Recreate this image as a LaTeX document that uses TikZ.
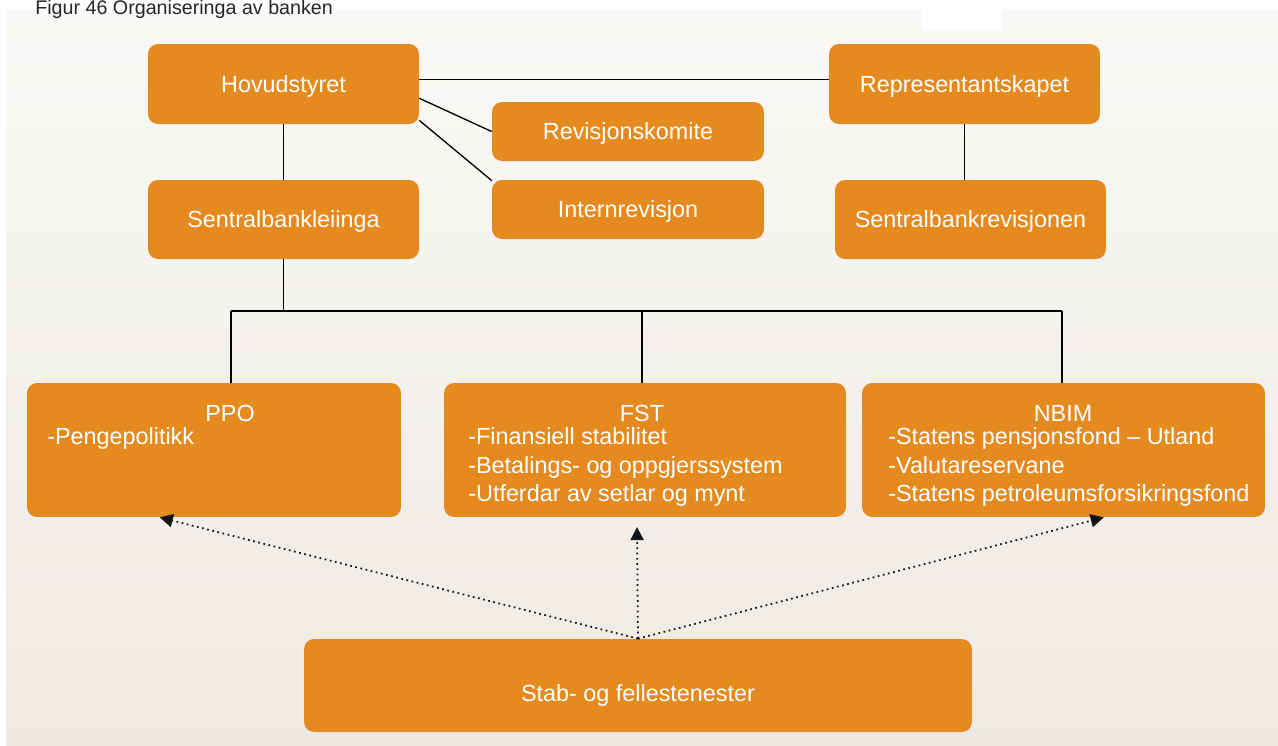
\documentclass[tikz,border=0pt]{standalone}
\usepackage{fontspec}
\setmainfont{Liberation Sans}
\usetikzlibrary{arrows.meta,calc}
\definecolor{orangebox}{HTML}{E58A1F}
\definecolor{bgtop}{HTML}{FAF9F7}
\definecolor{bgbot}{HTML}{EEEAE3}
\definecolor{tipcol}{HTML}{0A1414}
\tikzset{
  box/.style={fill=orangebox, draw=none, rounded corners=5.7pt, inner sep=0pt,
    text=white, text depth=0pt, font=\fontsize{13.3}{16}\selectfont},
  btext/.style={text=white, font=\fontsize{13.3}{16}\selectfont, inner sep=0pt, yshift=-0.06cm},
  conn/.style={draw=black, line width=0.75pt},
  dots/.style={draw=black!90, line width=1pt, dotted,
    -{Triangle[length=7.5pt,width=7.5pt,fill=tipcol]}},
}
\begin{document}
\begin{tikzpicture}[x=0.02cm,y=-0.02cm]
\useasboundingbox (0,0) rectangle (1278,745);
\fill[white] (0,0) rectangle (1278,745);
\shade[top color=bgtop, bottom color=bgbot] (6,10) rectangle (1278,745);
\fill[white] (922,10) rectangle (1002,30);
\node[anchor=base west, inner sep=0pt, text=black!85, font=\fontsize{11.2}{13}\selectfont] (title) at (35,14) {Figur 46 Organiseringa av banken};

\node[box, minimum width=5.42cm, minimum height=1.6cm] (hov) at (283.5,84) {Hovudstyret};
\node[box, minimum width=5.42cm, minimum height=1.6cm] (rep) at (964.5,84) {Representantskapet};
\node[box, minimum width=5.44cm, minimum height=1.18cm] (rev) at (628,131.5) {Revisjonskomite};
\node[box, minimum width=5.44cm, minimum height=1.18cm] (int) at (628,209.5) {Internrevisjon};
\node[box, minimum width=5.42cm, minimum height=1.58cm] (sbl) at (283.5,219.5) {Sentralbankleiinga};
\node[box, minimum width=5.42cm, minimum height=1.58cm] (srev) at (970.5,219.5) {Sentralbankrevisjonen};
\node[box, minimum width=7.48cm, minimum height=2.68cm] (ppo) at (214,450) {};
\node[box, minimum width=8.04cm, minimum height=2.68cm] (fst) at (645,450) {};
\node[box, minimum width=8.06cm, minimum height=2.68cm] (nbim) at (1063.5,450) {};
\node[box, minimum width=13.36cm, minimum height=1.86cm] (stab) at (638,685.5) {};
\node[btext] (stabt) at (638,692) {Stab- og fellestenester};

\node[btext] (ppoh) at (230,410) {PPO};
\node[btext, anchor=mid west] (ppo1) at (47,437) {-Pengepolitikk};
\node[btext] (fsth) at (642,410) {FST};
\node[btext, anchor=mid west] (fst1) at (468,437) {-Finansiell stabilitet};
\node[btext, anchor=mid west] (fst2) at (468,466) {-Betalings- og oppgjerssystem};
\node[btext, anchor=mid west] (fst3) at (468,494) {-Utferdar av setlar og mynt};
\node[btext] (nbimh) at (1063,410) {NBIM};
\node[btext, anchor=mid west] (nb1) at (888,437) {-Statens pensjonsfond – Utland};
\node[btext, anchor=mid west] (nb2) at (888,466) {-Valutareservane};
\node[btext, anchor=mid west] (nb3) at (888,494) {-Statens petroleumsforsikringsfond};

% connectors
\draw[conn] (hov.2) -- (rep.178);
\draw[conn] (hov.-6) -- (rev.west);
\draw[conn] (hov.-15) -- (int.168);
\draw[conn] (hov.south) -- (sbl.north);
\draw[conn] (rep.south) -- (rep.south |- srev.north);
\coordinate (hl) at (231,311);
\coordinate (hr) at (1062,311);
\draw[conn] (sbl.south) -- (sbl.south |- hl);
\draw[conn] (hl) -- (hr);
\draw[conn] (hl) -- (hl |- ppo.north);
\draw[conn] (fst.north -| 642,0) -- (642,311);
\draw[conn] (hr) -- (hr |- nbim.north);

% dotted arrows
\coordinate (fsttip) at (637,527);
\draw[dots] (stab.north) -- ($(ppo.south west)!0.355!(ppo.south east)$);
\draw[dots] (stab.north) -- (fsttip);
\draw[dots] (stab.north) -- ($(nbim.south west)!0.6!(nbim.south east)$);
\end{tikzpicture}
\end{document}
